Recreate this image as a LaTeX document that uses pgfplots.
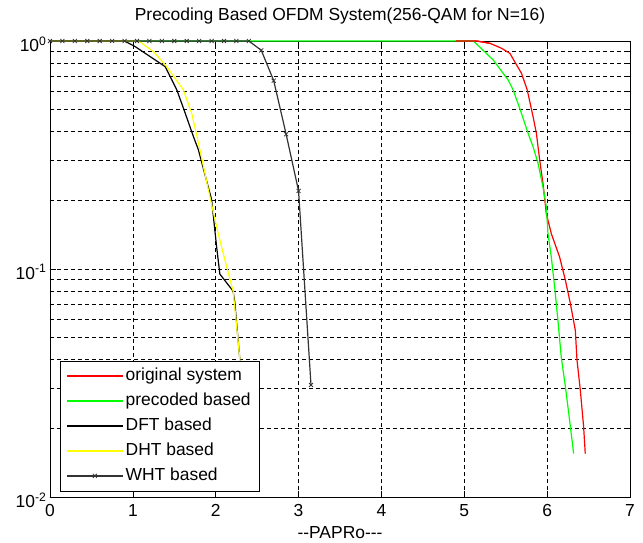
\documentclass[border=0pt]{standalone}
\usepackage{pgfplots}
\pgfplotsset{compat=1.18}
\usepackage{fontspec}
\setmainfont{Liberation Sans}
\definecolor{mred}{RGB}{255,0,0}
\definecolor{mgreen}{RGB}{0,255,0}
\definecolor{myellow}{RGB}{255,255,0}
\begin{document}
\begin{tikzpicture}
\begin{axis}[
  scale only axis, width=580bp, height=456bp,
  xmin=0, xmax=7, ymode=log, ymin=0.01, ymax=1,
  xtick={0,1,2,3,4,5,6,7},
  ytick={0.01,0.1,1},
  yticklabels={10\textsuperscript{-2},10\textsuperscript{-1},10\textsuperscript{0}},
  grid=both,
  major grid style={black, dash pattern=on 4bp off 3bp, line width=0.6bp},
  minor grid style={black, dash pattern=on 4bp off 3bp, line width=0.6bp},
  tick style={black, line width=0.6bp},
  major tick length=6bp, minor tick length=3bp,
  axis line style={black, line width=0.8bp},
  tick label style={font=\fontsize{17.5}{20}\selectfont},
  xticklabel style={yshift=-4bp},
  yticklabel style={yshift=-3bp},
  /pgf/number format/assume math mode=true,
  title={Precoding Based OFDM System(256-QAM for N=16)},
  title style={font=\fontsize{17.5}{20}\selectfont, at={(0.5,1)}, anchor=base, yshift=15bp},
  xlabel={-{}-PAPRo-{}-{}-},
  xlabel style={font=\fontsize{17.5}{20}\selectfont, at={(0.5,0)}, anchor=base, yshift=-41bp},
  clip=false,
  legend cell align=left,
  legend style={at={(0.0172,0.0132)}, anchor=south west, draw=black, fill=white,
    font=\fontsize{17.5}{20}\selectfont, inner xsep=6bp, inner ysep=5bp, row sep=5bp,
    nodes={inner sep=2bp, text height=12.5bp, text depth=3.5bp}},
  legend image code/.code={\draw[mark repeat=2,mark phase=2,#1,line width=1.5bp] plot coordinates {(0bp,0bp) (28bp,0bp) (56bp,0bp)};},
]
\addplot[mred, line width=1.2bp] coordinates {
 (4.9,1)(5.15,1)(5.31,0.977)(5.45,0.929)(5.55,0.883)(5.69,0.722)(5.76,0.610)(5.83,0.466)
 (5.87,0.394)(5.91,0.301)(5.95,0.237)(5.99,0.175)(6.05,0.143)(6.15,0.113)(6.22,0.0894)
 (6.28,0.0707)(6.34,0.0539)(6.36,0.0400)(6.40,0.0295)(6.44,0.0204)(6.46,0.0155)};
\addlegendentry{original system}
\addplot[mgreen, line width=1.2bp] coordinates {
 (0,1)(5.11,1)(5.35,0.825)(5.53,0.674)(5.59,0.610)(5.69,0.482)(5.77,0.394)(5.83,0.344)
 (5.89,0.291)(5.95,0.229)(5.99,0.188)(6.01,0.143)(6.05,0.113)(6.09,0.0837)(6.13,0.0597)
 (6.17,0.0412)(6.22,0.0305)(6.26,0.0234)(6.32,0.0155)};
\addlegendentry{precoded based}
\addplot[black, line width=1.2bp] coordinates {
 (0,1)(0.9,1)(1.03,0.944)(1.39,0.772)(1.53,0.611)(1.61,0.508)(1.73,0.382)(1.79,0.334)
 (1.95,0.202)(2.01,0.126)(2.05,0.095)(2.21,0.080)(2.23,0.0716)(2.29,0.0406)(2.33,0.0155)};
\addlegendentry{DFT based}
\addplot[myellow, line width=1.2bp] coordinates {
 (0,1)(1.07,1)(1.25,0.898)(1.41,0.771)(1.61,0.610)(1.71,0.482)(1.77,0.387)(1.81,0.333)
 (1.93,0.207)(2.03,0.143)(2.11,0.110)(2.21,0.080)(2.25,0.0576)(2.29,0.0406)(2.33,0.0155)};
\addlegendentry{DHT based}
\addplot[black!80, line width=1.2bp, mark=x, mark size=2.8bp, mark options={line width=0.8bp}] coordinates {
 (0,1)(0.15,1)(0.3,1)(0.45,1)(0.6,1)(0.75,1)(0.9,1)(1.05,1)(1.2,1)(1.35,1)(1.5,1)(1.65,1)
 (1.8,1)(1.95,1)(2.1,1)(2.25,1)(2.4,1)(2.55,0.91)(2.70,0.67)(2.85,0.39)(3.0,0.22)(3.15,0.031)};
\addlegendentry{WHT based}
\addplot[mred, line width=1.2bp, forget plot] coordinates {(4.9,1)(5.15,1)(5.31,0.977)};
\end{axis}
\pgfresetboundingbox
\path[use as bounding box] (-50bp,-46bp) rectangle (593bp,497bp);
\end{tikzpicture}
\end{document}
